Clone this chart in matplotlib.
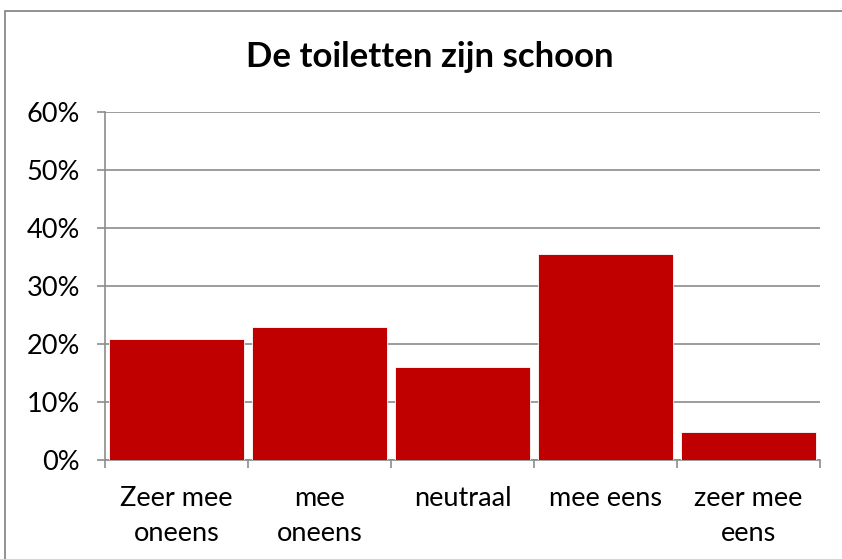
import matplotlib.pyplot as plt
from matplotlib.patches import Rectangle
from matplotlib.ticker import PercentFormatter

categories = ['Zeer mee\noneens', 'mee\noneens', 'neutraal', 'mee eens', 'zeer mee\neens']
values = [20.8, 23.0, 16.0, 35.5, 4.8]
yticks = [0, 10, 20, 30, 40, 50, 60]

plt.rcParams['font.family'] = ['Lato', 'DejaVu Sans']

fig = plt.figure(figsize=(8.42, 5.59), dpi=100)
ax = fig.add_axes([105/842, 1 - 460/559, 715/842, 348/559])

# outer chart border (only left/top visible in the crop)
fig.patches.append(Rectangle((5/842, -0.1), 1.2, 1.1 - 11/559, transform=fig.transFigure,
                             fill=False, edgecolor='#7f7f7f', linewidth=1.2))

x = range(len(categories))
ax.bar(x, values, width=0.95, color='#c00000', edgecolor='white', linewidth=0.6, zorder=3)

ax.set_xlim(-0.5, len(categories) - 0.5)
ax.set_ylim(0, 60)
ax.set_yticks(yticks)
ax.yaxis.set_major_formatter(PercentFormatter(decimals=0))
ax.grid(axis='y', color='#8c8c8c', linewidth=1.2, zorder=0)

ax.set_xticks([i + 0.5 for i in range(-1, len(categories))], minor=False)
ax.set_xticklabels([])
ax.set_xticks(list(x), minor=True)
ax.set_xticklabels(categories, minor=True, fontsize=19.5, linespacing=1.5)
ax.tick_params(axis='x', which='minor', length=0, pad=19)
ax.tick_params(axis='x', which='major', length=6, color='#8c8c8c', width=1.2)
ax.tick_params(axis='y', length=6, color='#8c8c8c', width=1.2, labelsize=19.5, pad=12)

for side in ['top', 'right']:
    ax.spines[side].set_visible(False)
for side in ['left', 'bottom']:
    ax.spines[side].set_color('#8c8c8c')
    ax.spines[side].set_linewidth(1.2)

fig.text(429.5/842, 1 - 57/559, 'De toiletten zijn schoon', ha='center', va='center',
         fontsize=25, fontweight='bold')

fig.savefig('out.png', dpi=100)
